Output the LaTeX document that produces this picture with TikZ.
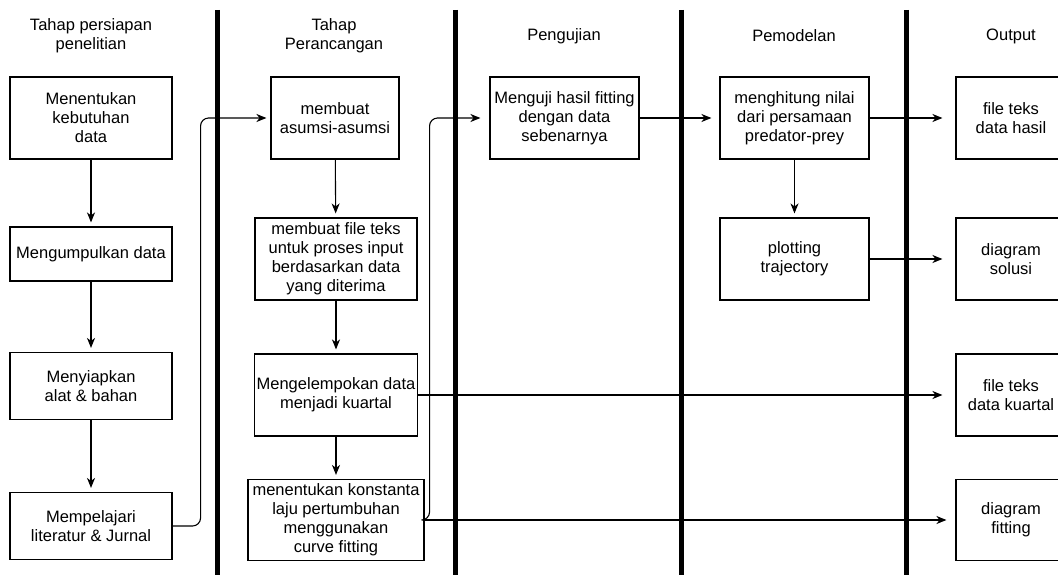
\documentclass[tikz,border=0pt]{standalone}
\usepackage{fontspec}
\setmainfont{Liberation Sans}
\usetikzlibrary{arrows.meta}
\begin{document}
\begin{tikzpicture}[x=1pt,y=-1pt,font=\fontsize{16.5}{19}\selectfont]
  \tikzstyle{box}=[draw, line width=1.1pt, minimum width=162pt, minimum height=82pt, align=center, inner sep=2pt]
  \tikzstyle{lane}=[line width=5pt]
  \tikzstyle{arr}=[line width=1.1pt, -{Stealth[length=10pt,width=8pt,inset=3pt]}, shorten >=4pt]
  \tikzstyle{outarr}=[arr, shorten >=13pt]
  \useasboundingbox (0,0) rectangle (1058,575);
  \foreach \x in {217,455,681,906}
    \draw[lane] (\x,10) -- (\x,575);
  \node[align=center] (h1) at (91,36) {Tahap persiapan\\penelitian};
  \node[align=center] (h2) at (334,36) {Tahap\\Perancangan};
  \node (h3) at (564,36) {Pengujian};
  \node (h4) at (794,36) {Pemodelan};
  \node (h5) at (1011,36) {Output};
  \node[box] (butuh) at (91,118) {Menentukan\\kebutuhan\\data};
  \node[box, minimum height=54pt] (kumpul) at (91,254) {Mengumpulkan data};
  \node[box, minimum height=67pt] (siap) at (91,386) {Menyiapkan\\alat \& bahan};
  \node[box, minimum height=67pt] (pelajari) at (91,526) {Mempelajari\\literatur \& Jurnal};
  \node[box, minimum width=128pt] (asumsi) at (335,118) {membuat\\asumsi-asumsi};
  \node[box] (fileinput) at (336,259) {membuat file teks\\untuk proses input\\berdasarkan data\\yang diterima};
  \node[box] (kelompok) at (336,395) {Mengelempokan data\\menjadi kuartal};
  \node[box, minimum width=176pt, minimum height=81pt] (konstanta) at (336,520) {menentukan konstanta\\laju pertumbuhan\\menggunakan\\curve fitting};
  \node[box, minimum width=149pt] (uji) at (564.5,118) {Menguji hasil fitting\\dengan data\\sebenarnya};
  \node[box, minimum width=149pt] (hitung) at (794.5,118) {menghitung nilai\\dari persamaan\\predator-prey};
  \node[box, minimum width=149pt] (plot) at (794.5,259) {plotting\\trajectory};
  \node[box, minimum width=110pt] (hasil) at (1011,118) {file teks\\data hasil};
  \node[box, minimum width=110pt] (solusi) at (1011,259) {diagram\\solusi};
  \node[box, minimum width=110pt] (kuartal) at (1011,395) {file teks\\data kuartal};
  \node[box, minimum width=110pt, minimum height=81pt] (fitting) at (1011,520) {diagram\\fitting};
  \draw[arr] (butuh) -- (kumpul);
  \draw[arr] (kumpul) -- (siap);
  \draw[arr] (siap) -- (pelajari);
  \draw[arr, rounded corners=8pt] (pelajari.east) -- ++(28,0) |- (asumsi.west);
  \draw[arr] (asumsi) -- (fileinput);
  \draw[arr] (fileinput) -- (kelompok);
  \draw[arr] (kelompok) -- (konstanta);
  \draw[arr, rounded corners=8pt, shorten >=9pt] (konstanta.east) -- ++(5,0) |- (uji.west);
  \draw[arr, shorten >=8pt] (uji) -- (hitung);
  \draw[arr] (hitung) -- (plot);
  \draw[outarr] (hitung) -- (hasil);
  \draw[outarr] (plot) -- (solusi);
  \draw[outarr] (kelompok) -- (kuartal);
  \draw[arr, shorten >=9pt] (konstanta) -- (fitting);
\end{tikzpicture}
\end{document}
